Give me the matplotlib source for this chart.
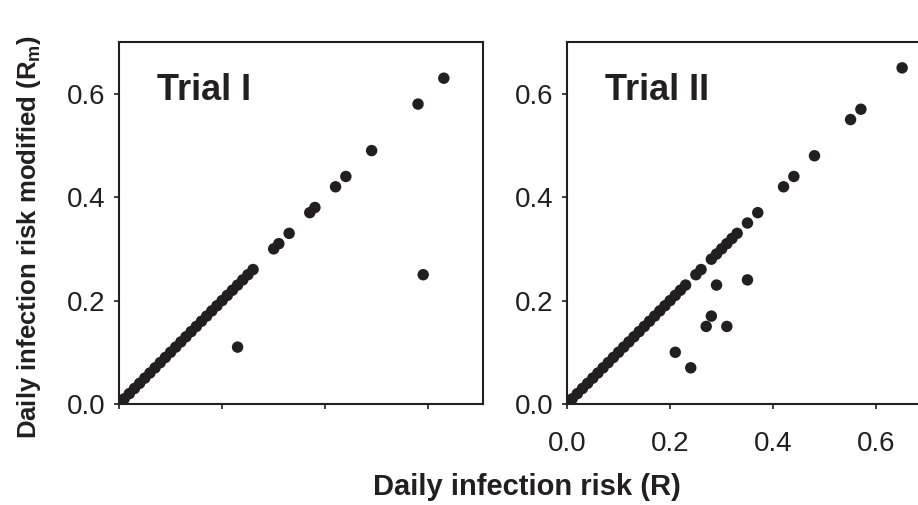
import matplotlib
matplotlib.use('Agg')
import matplotlib.pyplot as plt

plt.rcParams['font.family'] = ['Liberation Sans', 'DejaVu Sans']
plt.rcParams['mathtext.fontset'] = 'custom'
plt.rcParams['mathtext.rm'] = 'Liberation Sans'
plt.rcParams['mathtext.bf'] = 'Liberation Sans:bold'

# Trial I: daily infection risk (R) vs modified risk (Rm)
trial1_r = [0.00, 0.01, 0.02, 0.03, 0.04, 0.05, 0.06, 0.07, 0.08, 0.09,
            0.10, 0.11, 0.12, 0.13, 0.14, 0.15, 0.16, 0.17, 0.18, 0.19,
            0.20, 0.21, 0.22, 0.23, 0.24, 0.25, 0.26,
            0.30, 0.31, 0.33, 0.37, 0.38, 0.42, 0.44, 0.49, 0.58, 0.63,
            0.23, 0.59]
trial1_rm = [0.00, 0.01, 0.02, 0.03, 0.04, 0.05, 0.06, 0.07, 0.08, 0.09,
             0.10, 0.11, 0.12, 0.13, 0.14, 0.15, 0.16, 0.17, 0.18, 0.19,
             0.20, 0.21, 0.22, 0.23, 0.24, 0.25, 0.26,
             0.30, 0.31, 0.33, 0.37, 0.38, 0.42, 0.44, 0.49, 0.58, 0.63,
             0.11, 0.25]

# Trial II
trial2_r = [0.00, 0.01, 0.02, 0.03, 0.04, 0.05, 0.06, 0.07, 0.08, 0.09,
            0.10, 0.11, 0.12, 0.13, 0.14, 0.15, 0.16, 0.17, 0.18, 0.19,
            0.20, 0.21, 0.22, 0.23, 0.25, 0.26,
            0.28, 0.29, 0.30, 0.31, 0.32, 0.33,
            0.35, 0.37, 0.42, 0.44, 0.48, 0.55, 0.57, 0.65,
            0.21, 0.24, 0.27, 0.28, 0.29, 0.31, 0.35]
trial2_rm = [0.00, 0.01, 0.02, 0.03, 0.04, 0.05, 0.06, 0.07, 0.08, 0.09,
             0.10, 0.11, 0.12, 0.13, 0.14, 0.15, 0.16, 0.17, 0.18, 0.19,
             0.20, 0.21, 0.22, 0.23, 0.25, 0.26,
             0.28, 0.29, 0.30, 0.31, 0.32, 0.33,
             0.35, 0.37, 0.42, 0.44, 0.48, 0.55, 0.57, 0.65,
             0.10, 0.07, 0.15, 0.17, 0.23, 0.15, 0.24]

ticks = [0.0, 0.2, 0.4, 0.6]
tick_labels = ['0.0', '0.2', '0.4', '0.6']
ink = '#231f20'

W, H = 918, 505
fig = plt.figure(figsize=(W / 100, H / 100), dpi=100)

# axes boxes in pixels: left, bottom(from top), width, height
ax1 = fig.add_axes([119 / W, (H - 404) / H, 364 / W, 362 / H])
ax2 = fig.add_axes([567 / W, (H - 404) / H, 364 / W, 362 / H])

panels = [(ax1, trial1_r, trial1_rm, 'Trial I'),
          (ax2, trial2_r, trial2_rm, 'Trial II')]

for ax, xs, ys, name in panels:
    ax.scatter(xs, ys, s=68, color=ink, edgecolors='none', zorder=3)
    ax.set_xlim(0, 0.706)
    ax.set_ylim(0, 0.70)
    ax.set_xticks(ticks)
    ax.set_yticks(ticks)
    ax.set_yticklabels(tick_labels)
    for sp in ax.spines.values():
        sp.set_linewidth(1.5)
        sp.set_color(ink)
    ax.tick_params(direction='out', length=3.5, width=1.2, color=ink,
                   labelsize=20, labelcolor='#231f20')
    ax.tick_params(axis='y', pad=6)
    ax.tick_params(axis='x', pad=16)
    ax.text(0.105, 0.84, name, transform=ax.transAxes, fontsize=26,
            fontweight='bold', color=ink, ha='left', va='baseline')

ax1.set_xticklabels([])
ax2.set_xticklabels(tick_labels)

fig.text(527 / W, (H - 487) / H, 'Daily infection risk (R)', fontsize=21,
         fontweight='bold', ha='center', va='center', color=ink)
fig.text(29 / W, (H - 237) / H, r'Daily infection risk modified ($\mathbf{R_m}$)',
         fontsize=18.5, fontweight='bold', rotation=90, ha='center', va='center',
         color=ink)

fig.savefig('out.png', dpi=100)
